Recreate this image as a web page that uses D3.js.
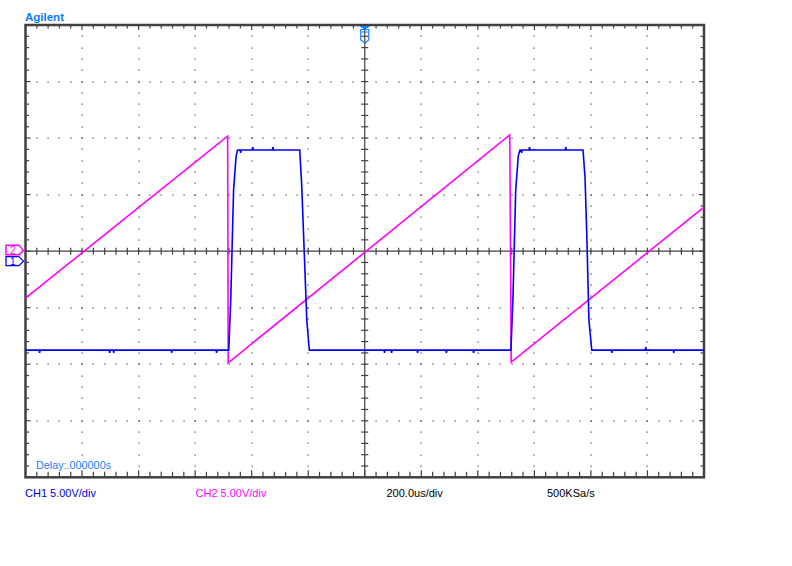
<!DOCTYPE html>
<html><head><meta charset="utf-8">
<script src="https://cdn.jsdelivr.net/npm/d3@7"></script>
<style>
html,body{margin:0;padding:0;background:#fff;}
svg{display:block;font-family:"Liberation Sans",Arial,sans-serif;}
</style></head>
<body>
<svg id="c" width="792" height="566"></svg>
<script>
// ---- data (time in us, voltage in V) ----
const timeDomain = [-1200, 1200];      // 12 div x 200us
const voltDomain = [-20, 20];          // 8 div x 5V
const timePerDiv = 200, voltPerDiv = 5;
const ch1Points = [
  [-1200,-8.75],[-1152,-8.75],[-1150,-9.0],[-1148,-8.75],
  [-904,-8.75],[-902,-9.0],[-900,-8.75],[-890,-8.75],[-888,-9.0],[-886,-8.75],
  [-685,-8.75],[-683,-9.0],[-681,-8.75],[-526,-8.75],[-524,-9.0],[-522,-8.75],
  [-481,-8.75],[-474,-4.34],[-464,5.40],[-455,8.41],[-450,8.95],
  [-441,8.95],[-439,8.7],[-437,8.95],[-398,8.95],[-396,9.2],[-394,8.95],
  [-327,8.95],[-325,9.2],[-323,8.95],
  [-230,8.95],[-223,5.84],[-205,-6.1],[-196,-8.75],
  [68,-8.75],[70,-9.0],[72,-8.75],[93,-8.75],[95,-9.0],[97,-8.75],
  [185,-8.75],[187,-9.0],[189,-8.75],[287,-8.75],[289,-9.0],[291,-8.75],
  [383,-8.75],[385,-9.0],[387,-8.75],
  [517,-8.75],[524,-4.34],[534,5.40],[543,8.41],[549,8.95],
  [553,8.95],[555,8.7],[557,8.95],[581,8.95],[583,9.2],[585,8.95],
  [709,8.95],[711,9.2],[713,8.95],
  [772,8.95],[779,6.6],[785,1.86],[793,-6.1],[803,-8.75],
  [872,-8.75],[874,-9.0],[876,-8.75],[992,-8.75],[994,-8.5],[996,-8.75],
  [1091,-8.75],[1093,-9.0],[1095,-8.75],[1200,-8.75]
];
const ch2Points = [
  [-1200,-4.16],[-485,10.18],[-483,-9.87],[513,10.27],[518,-9.82],[1200,3.89]
];
const labels = {
  brand: "Agilent",
  delay: "Delay:.000000s",
  ch1: "CH1 5.00V/div",
  ch2: "CH2 5.00V/div",
  timebase: "200.0us/div",
  rate: "500KSa/s"
};

// ---- layout ----
const L = 25.5, R = 704, T = 25, B = 477.3;
const svg = d3.select("#c");
const x = d3.scaleLinear().domain(timeDomain).range([L, R]);
const y = d3.scaleLinear().domain(voltDomain).range([B, T]);
const gridCol = "#404040";

const minorT = d3.range(timeDomain[0], timeDomain[1] + 1, timePerDiv / 5);
const minorV = d3.range(voltDomain[0], voltDomain[1] + 0.001, voltPerDiv / 5);
const majorT = d3.range(timeDomain[0] + timePerDiv, timeDomain[1], timePerDiv).filter(t => t !== 0);
const majorV = d3.range(voltDomain[0] + voltPerDiv, voltDomain[1], voltPerDiv).filter(v => v !== 0);
const isMajorT = t => Math.abs(t % timePerDiv) < 1e-6;
const isMajorV = v => Math.abs(v % voltPerDiv) < 1e-6;

const g = svg.append("g");
// grid dots along major rows
majorV.forEach(v => {
  minorT.filter(t => t > timeDomain[0] && t < timeDomain[1]).forEach(t => {
    g.append("rect").attr("x", Math.round(x(t)) - 0.5).attr("y", Math.round(y(v)) - 0.5)
      .attr("width", 1.2).attr("height", 1.2).attr("fill", gridCol);
  });
});
majorT.forEach(t => {
  minorV.filter(v => v > voltDomain[0] && v < voltDomain[1]).forEach(v => {
    g.append("rect").attr("x", Math.round(x(t)) - 0.5).attr("y", Math.round(y(v)) - 0.5)
      .attr("width", 1.2).attr("height", 1.2).attr("fill", gridCol);
  });
});
// center axes with crossbars
g.append("line").attr("x1", x(0)).attr("x2", x(0)).attr("y1", T).attr("y2", B)
  .attr("stroke", gridCol).attr("stroke-width", 1.2);
g.append("line").attr("x1", L).attr("x2", R).attr("y1", y(0)).attr("y2", y(0))
  .attr("stroke", gridCol).attr("stroke-width", 1.2);
minorV.filter(v => v > voltDomain[0] && v < voltDomain[1] && v !== 0).forEach(v => {
  g.append("line").attr("x1", x(0) - 3.5).attr("x2", x(0) + 3.5).attr("y1", y(v)).attr("y2", y(v))
    .attr("stroke", gridCol).attr("stroke-width", 1.2);
});
minorT.filter(t => t > timeDomain[0] && t < timeDomain[1] && t !== 0).forEach(t => {
  g.append("line").attr("x1", x(t)).attr("x2", x(t)).attr("y1", y(0) - 3.5).attr("y2", y(0) + 3.5)
    .attr("stroke", gridCol).attr("stroke-width", 1.2);
});
// border ticks
minorT.filter(t => t > timeDomain[0] && t < timeDomain[1]).forEach(t => {
  const m = isMajorT(t);
  g.append("line").attr("x1", x(t)).attr("x2", x(t)).attr("y1", T).attr("y2", T + (m ? 5 : 3.5))
    .attr("stroke", gridCol).attr("stroke-width", 1.2);
  g.append("line").attr("x1", x(t)).attr("x2", x(t)).attr("y1", B).attr("y2", B - (m ? 7 : 5.5))
    .attr("stroke", gridCol).attr("stroke-width", 1.2);
});
minorV.filter(v => v > voltDomain[0] && v < voltDomain[1]).forEach(v => {
  const m = isMajorV(v);
  g.append("line").attr("x1", L).attr("x2", L + (m ? 5 : 3.5)).attr("y1", y(v)).attr("y2", y(v))
    .attr("stroke", gridCol).attr("stroke-width", 1.2);
  g.append("line").attr("x1", R).attr("x2", R - (m ? 5 : 3.5)).attr("y1", y(v)).attr("y2", y(v))
    .attr("stroke", gridCol).attr("stroke-width", 1.2);
});
// border
g.append("rect").attr("x", L).attr("y", T).attr("width", R - L).attr("height", B - T)
  .attr("fill", "none").attr("stroke", gridCol).attr("stroke-width", 2.5);

// traces
const line = d3.line().x(d => x(d[0])).y(d => y(d[1]));
svg.append("path").datum(ch2Points).attr("d", line).attr("fill", "none")
  .attr("stroke", "#ff00ff").attr("stroke-width", 1.6);
svg.append("path").datum(ch1Points).attr("d", line).attr("fill", "none")
  .attr("stroke", "#0000ff").attr("stroke-width", 1.6);

// channel markers
const y2 = y(0) - 0.5;
svg.append("path").attr("d", `M6,${y2-5.5}H19L23.5,${y2}L19,${y2+4}H6Z`)
  .attr("fill", "#fff").attr("stroke", "#ff00ff").attr("stroke-width", 1.5);
svg.append("text").attr("x", 12.8).attr("y", y2 + 3.3).attr("text-anchor", "middle")
  .attr("font-size", 10).attr("fill", "#ff00ff").text("2");
const y1m = y(0) + 10;
svg.append("path").attr("d", `M6,${y1m-4.5}H19L23.5,${y1m}L19,${y1m+4.5}H6Z`)
  .attr("fill", "none").attr("stroke", "#0000ff").attr("stroke-width", 1.3);
svg.append("text").attr("x", 12.8).attr("y", y1m + 3.8).attr("text-anchor", "middle")
  .attr("font-size", 10).attr("fill", "#0000ff").text("1");
// trigger marker
const cx = x(0);
svg.append("path").attr("d", `M${cx-4.5},26.5H${cx+4.5}L${cx},29Z`)
  .attr("fill", "#1a7cff").attr("stroke", "#1a7cff").attr("stroke-width", 1);
svg.append("path").attr("d", `M${cx-4},29.5H${cx+4}V40L${cx},43L${cx-4},40Z`)
  .attr("fill", "none").attr("stroke", "#1a7cff").attr("stroke-width", 1.2);
svg.append("line").attr("x1", cx - 3).attr("x2", cx + 3).attr("y1", 32).attr("y2", 32)
  .attr("stroke", "#1a7cff").attr("stroke-width", 1.2);

// texts
svg.append("text").attr("x", 25).attr("y", 20.7).attr("font-size", 11.5).attr("font-weight", "bold")
  .attr("fill", "#0a7cff").text(labels.brand);
svg.append("text").attr("x", 36).attr("y", 468.5).attr("font-size", 10.8)
  .attr("fill", "#1a80ff").text(labels.delay);
svg.append("text").attr("x", 25).attr("y", 497).attr("font-size", 11)
  .attr("fill", "#0000e0").text(labels.ch1);
svg.append("text").attr("x", 195.5).attr("y", 497).attr("font-size", 11)
  .attr("fill", "#ff00ff").text(labels.ch2);
svg.append("text").attr("x", 386.5).attr("y", 497).attr("font-size", 11)
  .attr("fill", "#000").text(labels.timebase);
svg.append("text").attr("x", 547).attr("y", 497).attr("font-size", 11)
  .attr("fill", "#000").text(labels.rate);
</script>
</body></html>
